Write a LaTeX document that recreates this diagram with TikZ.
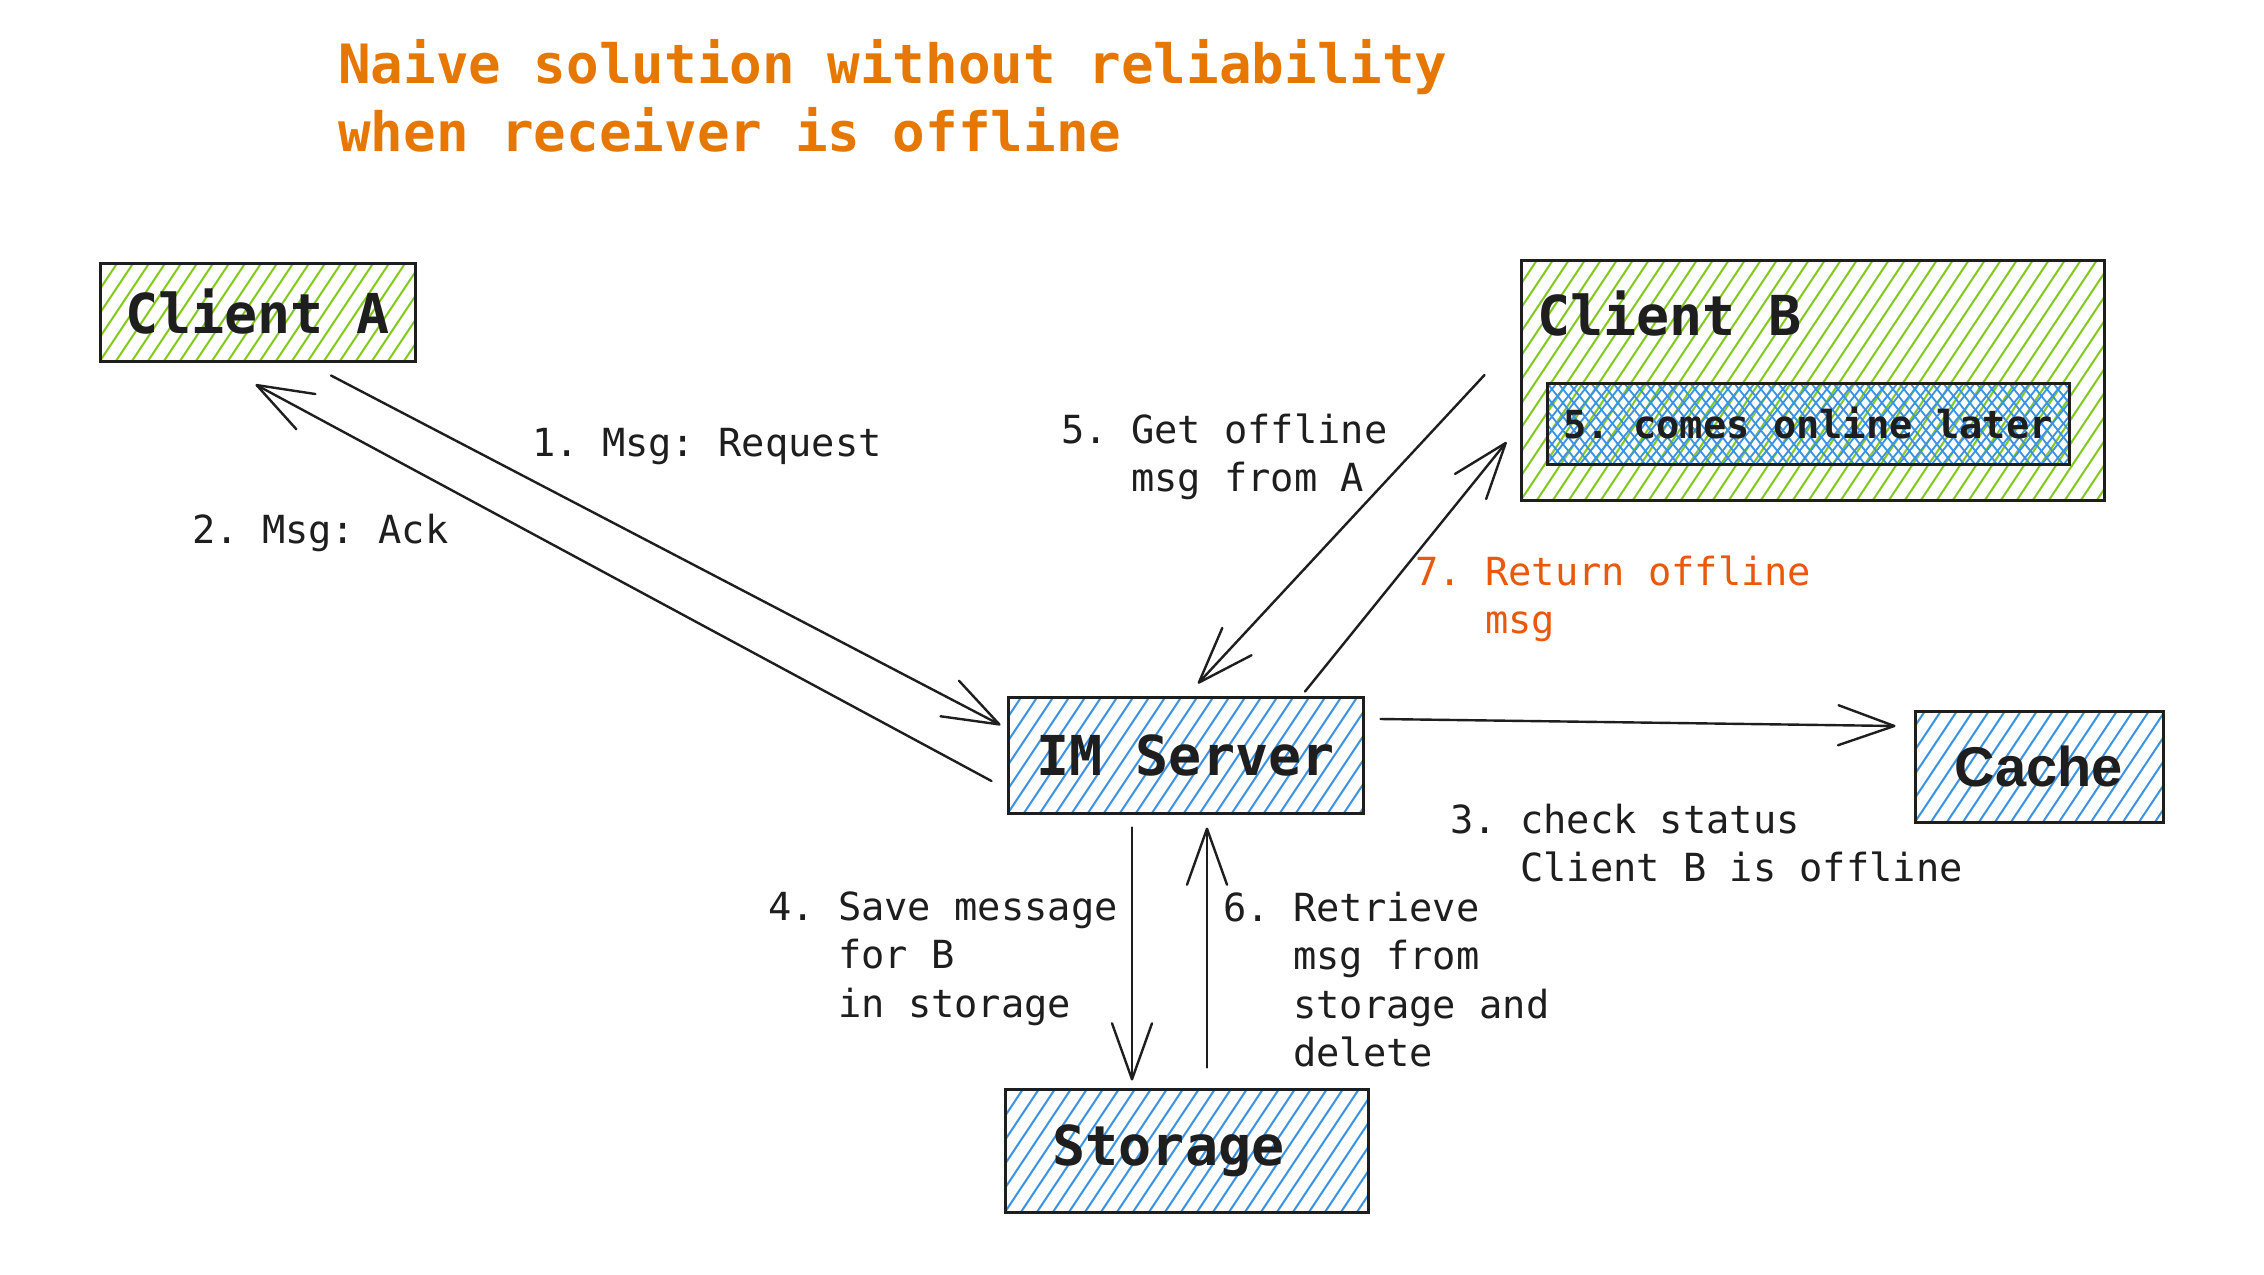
\documentclass[tikz,border=0pt]{standalone}
\usepackage{fontspec}
\setmainfont{DejaVu Sans Mono}
\newfontfamily\cachefont{Liberation Sans}
\usetikzlibrary{arrows.meta}
\frenchspacing
\definecolor{ink}{HTML}{1E1E1E}
\definecolor{hgreen}{HTML}{82C91E}
\definecolor{hblue}{HTML}{3A92E4}
\definecolor{titleorange}{HTML}{E67700}
\definecolor{redlabel}{HTML}{E8590C}
\newcommand\bignodefont{\fontsize{55}{68}\selectfont\bfseries}
\newcommand\labelfont{\fontsize{38.7}{48.4}\selectfont}
\newcommand\titlefont{\fontsize{54.2}{67.8}\selectfont\bfseries}
\newcommand\fl{\rule{0pt}{30pt}}
\begin{document}
\begin{tikzpicture}[x=1pt,y=-1pt,
  hatchfill/.style={path picture={
    \foreach \k in {-20,...,45}
      \draw[#1, line width=2pt] ([xshift=\k*16pt]path picture bounding box.south west) -- ++(200pt,300pt);
  }},
  crossfill/.style={path picture={
    \foreach \k in {-30,...,70}{
      \draw[#1, line width=1.8pt] ([xshift=\k*11pt]path picture bounding box.south west) -- ++(240pt,300pt);
      \draw[#1, line width=1.8pt] ([xshift=\k*11pt]path picture bounding box.north west) -- ++(240pt,-300pt);}
  }},
  box/.style={draw=ink, line width=3pt, inner sep=0pt, text=ink},
  lbl/.style={anchor=north west, inner sep=0pt, align=left, font=\labelfont, text=ink},
  arr/.style={draw=ink, line width=2.4pt, line cap=round, -{Straight Barb[length=56pt,width=40pt,round]}}
]
\fill[white] (0,0) rectangle (2264,1274);
\useasboundingbox (0,0) rectangle (2264,1274);

% title
\node[anchor=north west, inner sep=0pt, align=left, font=\titlefont, text=titleorange] (title) at (338,39)
  {\rule{0pt}{42pt}Naive solution without reliability\\when receiver is offline};

% boxes
\node[box, hatchfill=hgreen, minimum width=315pt, minimum height=98pt, font=\bignodefont] (A) at (257.5,312) {Client A};
\node[box, hatchfill=hgreen, minimum width=583pt, minimum height=240pt] (B) at (1812.5,380) {};
\node[anchor=base west, inner sep=0pt, font=\bignodefont, text=ink] (Btext) at (1537,335) {Client B};
\node[box, crossfill=hblue, minimum width=522pt, minimum height=81pt, font=\labelfont\bfseries] (Bon) at (1808,423.5) {5. comes online later};
\node[box, hatchfill=hblue, minimum width=355pt, minimum height=116pt, font=\bignodefont] (S) at (1185.5,755) {IM Server};
\node[box, hatchfill=hblue, minimum width=248pt, minimum height=111pt, font=\fontsize{56}{68}\cachefont\bfseries] (C) at (2039,766.5) {Cache};
\node[box, hatchfill=hblue, minimum width=363pt, minimum height=123pt, font=\bignodefont] (St) at (1186.5,1150.5) {\hspace*{-36pt}Storage};

% connectors
\draw[arr] ([shift={(73.5,13)}]A.south) -- ([shift={(-6,-30)}]S.west);
\draw[arr] ([shift={(-15,26)}]S.west) -- ([shift={(-2,22)}]A.south);
\draw[arr] ([shift={(-35,-5)}]B.west) -- ([shift={(12.5,-12)}]S.north);
\draw[arr] ([shift={(119.5,-4)}]S.north) -- ([shift={(-13,62)}]B.west);
\draw[arr] ([shift={(16,-36)}]S.east) -- ([shift={(-18,-40.5)}]C.west);
\draw[arr] ([shift={(-53.5,13)}]S.south) -- ([shift={(-54.5,-7)}]St.north);
\draw[arr] ([shift={(20.5,-20)}]St.north) -- ([shift={(21.5,13)}]S.south);

% labels
\node[lbl] (l1) at (532,426) {\fl 1. Msg: Request};
\node[lbl] (l2) at (192,513) {\fl 2. Msg: Ack};
\node[lbl] (l5) at (1061,413) {\fl 5. Get offline\\\hphantom{000}msg from A};
\node[lbl, text=redlabel] (l7) at (1415,555) {\fl 7. Return offline\\\hphantom{000}msg};
\node[lbl] (l3) at (1450,803) {\fl 3. check status\\\hphantom{000}Client B is offline};
\node[lbl] (l4) at (768,890) {\fl 4. Save message\\\hphantom{000}for B\\\hphantom{000}in storage};
\node[lbl] (l6) at (1223,891) {\fl 6. Retrieve\\\hphantom{000}msg from\\\hphantom{000}storage and\\\hphantom{000}delete};
\end{tikzpicture}
\end{document}
